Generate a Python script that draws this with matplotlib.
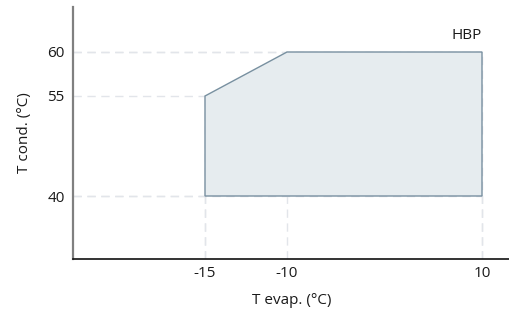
import numpy as np
import matplotlib
matplotlib.use("Agg")
import matplotlib.pyplot as plt

# Envelope data (evaporating temp, condensing temp)
t_evap = [-15, -15, -10, 10, 10]
t_cond = [40, 55, 60, 60, 40]
x_ticks = [-15, -10, 10]
y_ticks = [40, 55, 60]
label = "HBP"

plt.rcParams['font.family'] = ['Open Sans', 'DejaVu Sans']

# piecewise-linear axis scales (the reference axes are not linear)
xa_d = [-40, -15, -10, 10, 30]
xa_p = [205 - 25 * 16.4, 205, 287, 482, 482 + 20 * 9.75]
ya_d = [20, 40, 55, 60, 80]
ya_p = [196 + 20 * 6.67, 196, 96, 52, 52 - 20 * 8.8]
ya_p = [-v for v in ya_p]

fx = lambda v: np.interp(v, xa_d, xa_p)
ix = lambda v: np.interp(v, xa_p, xa_d)
fy = lambda v: np.interp(v, ya_d, ya_p)
iy = lambda v: np.interp(v, ya_p, ya_d)

fig = plt.figure(figsize=(5.1, 3.18), dpi=100)
ax = fig.add_axes([73 / 510, 1 - 259 / 318, 1 - 73 / 510, (259 - 7) / 318])
ax.set_xscale('function', functions=(fx, ix))
ax.set_yscale('function', functions=(fy, iy))
xmin, xmax = -15 - 132 / 16.4, 10 + 28 / 9.75
ymin, ymax = 40 - 63 / 6.67, 60 + 45 / 8.8
ax.set_xlim(xmin, xmax)
ax.set_ylim(ymin, ymax)

grid_kw = dict(color='#e2e5ea', lw=1.0, ls=(0, (6, 4)), zorder=1)
# guide lines from axes to envelope corners
for xv, yv in zip(t_evap, t_cond):
    ax.plot([xmin, xv], [yv, yv], **grid_kw)
    ax.plot([xv, xv], [ymin, yv], **grid_kw)

ax.fill(t_evap, t_cond, facecolor='#e6ecef', edgecolor='#7890a0', lw=1.0, zorder=2)

fs = 11
ax.text(10, 61.9, label, ha='right', va='center', fontsize=fs, color='#1a1a1a')

ax.set_xticks(x_ticks)
ax.set_yticks(y_ticks)
ax.set_xticklabels([str(v) for v in x_ticks])
ax.set_yticklabels([str(v) for v in y_ticks])
ax.tick_params(length=0, labelsize=fs, colors='#1a1a1a')
ax.tick_params(axis='y', pad=6)
ax.tick_params(axis='x', pad=5)
ax.minorticks_off()

for s in ['top', 'right']:
    ax.spines[s].set_visible(False)
ax.spines['left'].set_color('#808080')
ax.spines['left'].set_linewidth(1.6)
ax.spines['bottom'].set_color('#111111')
ax.spines['bottom'].set_linewidth(1.2)

ax.set_xlabel("T evap. (°C)", fontsize=fs, color='#1a1a1a', labelpad=9)
ax.set_ylabel("T cond. (°C)", fontsize=fs, color='#1a1a1a', labelpad=11)

fig.savefig("out.png", dpi=100)
